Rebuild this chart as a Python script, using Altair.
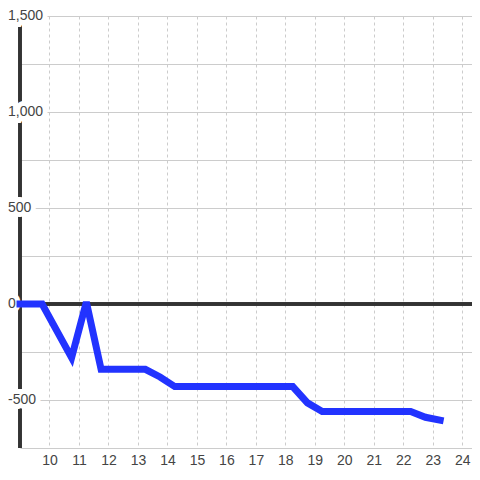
import altair as alt
import pandas as pd

# line data
xs = [9.0, 9.75, 10.75, 11.25, 11.75, 13.25, 13.75, 14.25, 18.25, 18.75, 19.25, 22.25, 22.75, 23.25]
ys = [0, 0, -280, 10, -340, -340, -380, -430, -430, -515, -560, -560, -590, -605]

# axis values
x_ticks = list(range(10, 25))
y_grid = [-750, -500, -250, 0, 250, 500, 750, 1000, 1250, 1500]
y_label_vals = [-500, 0, 500, 1000, 1500]
y_label_text = ["-500", "0", "500", "1,000", "1,500"]

line_df = pd.DataFrame({"x": xs, "y": ys})
lab_df = pd.DataFrame({"v": y_label_vals, "t": y_label_text})

FONT = "Liberation Sans"
xscale = alt.Scale(domain=[9, 24.33], nice=False, zero=False)
yscale = alt.Scale(domain=[-750, 1500], nice=False)

base_x = alt.X("x:Q", scale=xscale, axis=alt.Axis(
    values=x_ticks, grid=True, gridDash=[3, 3], gridColor="#cccccc", gridWidth=1,
    domain=False, ticks=False, tickSize=0, labelPadding=5, labelFontSize=14,
    labelFont=FONT, labelColor="#444444", title=None, labelFlush=False))
base_y = alt.Y("y:Q", scale=yscale, axis=alt.Axis(
    values=y_grid, grid=True, gridColor="#cccccc", gridWidth=1,
    domain=False, ticks=False, labels=False, title=None))

line = alt.Chart(line_df).mark_line(
    color="#2233ff", strokeWidth=7, strokeCap="square", strokeJoin="miter"
).encode(x=base_x, y=base_y)

zero = alt.Chart(lab_df).mark_rule(color="#333333", strokeWidth=3).encode(
    y=alt.datum(0, scale=yscale))

leftaxis = alt.Chart(lab_df).mark_rule(color="#333333", strokeWidth=3).encode(
    x=alt.value(0))

lab_bg = alt.Chart(lab_df).mark_text(
    align="left", baseline="middle", font=FONT, fontSize=14,
    color="white", stroke="white", strokeWidth=10, strokeJoin="miter"
).encode(x=alt.value(-12), y=alt.Y("v:Q", scale=yscale), text="t:N")

lab = alt.Chart(lab_df).mark_text(
    align="left", baseline="middle", font=FONT, fontSize=14, color="#444444"
).encode(x=alt.value(-12), y=alt.Y("v:Q", scale=yscale), text="t:N")

chart = alt.layer(zero, leftaxis, lab_bg, lab, line).properties(
    width=452, height=432,
    padding={"left": 12, "top": 8, "right": 0, "bottom": 20},
    autosize=alt.AutoSizeParams(type="none"),
    background="white",
).configure_view(stroke=None)

chart.save("out.html", embed_options={"renderer": "svg", "actions": False})
